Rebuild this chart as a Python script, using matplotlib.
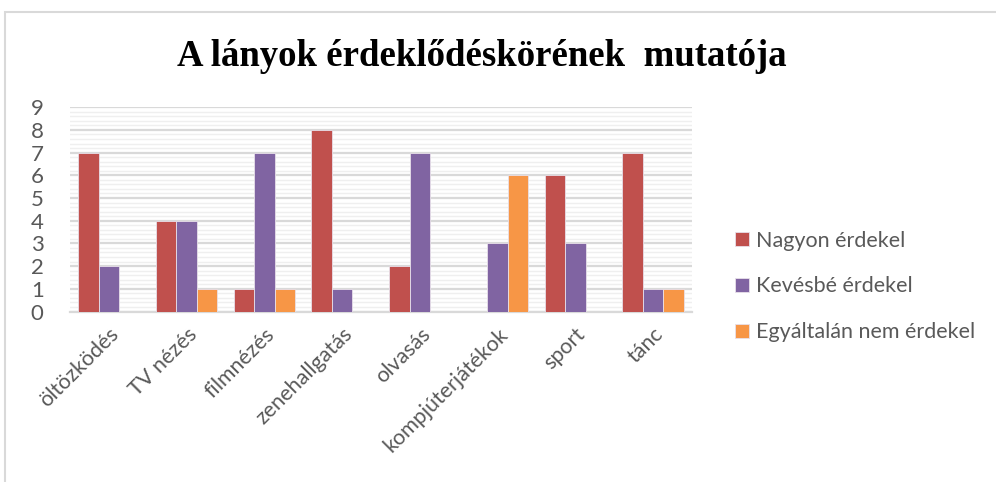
import matplotlib.pyplot as plt
import numpy as np
from matplotlib.patches import Rectangle

### data
categories = ['öltözködés', 'TV nézés', 'filmnézés', 'zenehallgatás',
              'olvasás', 'kompjúterjátékok', 'sport', 'tánc']
nagyon = [7, 4, 1, 8, 2, 0, 6, 7]
kevesbe = [2, 4, 7, 1, 7, 3, 3, 1]
egyaltalan = [0, 1, 1, 0, 0, 6, 0, 1]
series_names = ['Nagyon érdekel', 'Kevésbé érdekel', 'Egyáltalán nem érdekel']
colors = ['#C0504D', '#8064A2', '#F79646']

text_gray = '#595959'

fig = plt.figure(figsize=(9.96, 4.82), dpi=100)

# outer chart frame (cut off on right and bottom like the screenshot)
fig.patches.append(Rectangle((5 / 996, -0.1), 1.2, (482 - 12) / 482 + 0.1,
                             transform=fig.transFigure, fill=False,
                             edgecolor='#D9D9D9', linewidth=1.5))

ax = fig.add_axes([70 / 996, (482 - 311.5) / 482, (692 - 70) / 996, 204.3 / 482])

x = np.arange(len(categories))
w = 0.264
for i, (vals, name, c) in enumerate(zip([nagyon, kevesbe, egyaltalan], series_names, colors)):
    ax.bar(x + (i - 1) * w, vals, width=w, color=c, label=name,
           edgecolor='#E8E0EA', linewidth=0.6, zorder=3)

ax.set_xlim(-0.5, len(categories) - 0.5)
ax.set_ylim(0, 9)
ax.set_yticks(range(0, 10))
ax.set_yticks(np.arange(0, 9.01, 0.2), minor=True)
ax.grid(which='major', axis='y', color='#D9D9D9', linewidth=1.6, zorder=1)
ax.grid(which='minor', axis='y', color='#EFEFEF', linewidth=1.0, zorder=0)
ax.tick_params(axis='y', which='both', length=0, pad=19, labelsize=16, labelcolor=text_gray)
for lab in ax.get_yticklabels():
    lab.set_fontfamily('Lato')

ax.set_xticks(x)
ax.set_xticklabels(categories, rotation=45, ha='right', rotation_mode='anchor',
                   fontsize=15.5, color=text_gray, fontfamily='Lato')
ax.tick_params(axis='x', length=0, pad=9)

for s in ['top', 'right', 'left']:
    ax.spines[s].set_visible(False)
ax.spines['bottom'].set_color('#D9D9D9')
ax.spines['bottom'].set_linewidth(1.6)

leg = fig.legend(loc='upper left', bbox_to_anchor=(726 / 996, (482 - 222) / 482),
                 frameon=False, prop={'family': 'Lato', 'size': 15.5},
                 handlelength=0.65, handleheight=0.65, handletextpad=0.35,
                 labelspacing=1.2, borderaxespad=0)
for t in leg.get_texts():
    t.set_color(text_gray)

fig.text(482 / 996, (482 - 57) / 482, 'A lányok érdeklődéskörének  mutatója',
         ha='center', va='center', fontsize=26.5, fontweight='bold',
         fontfamily='Liberation Serif', color='black')

fig.savefig('out.png', dpi=100)
